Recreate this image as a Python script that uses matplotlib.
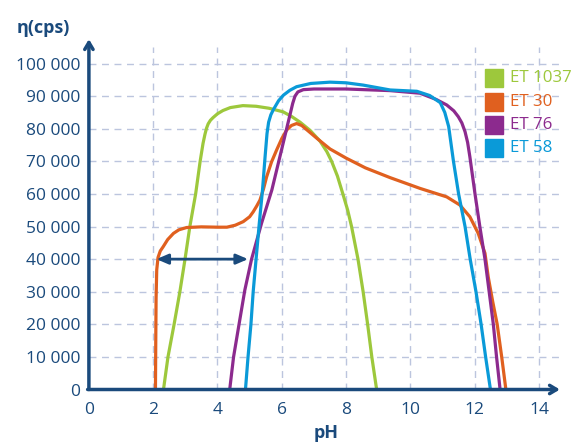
import matplotlib
matplotlib.use('Agg')
import matplotlib.pyplot as plt

# ET 1037
ph_1037 = [2.32, 2.46, 2.65, 2.83, 2.99, 3.14, 3.32, 3.46, 3.55, 3.61, 3.66, 3.71, 3.78, 3.86,
           4.0, 4.17, 4.4, 4.79, 5.2, 5.6, 6.04, 6.3, 6.57, 6.88, 7.19, 7.4, 7.55, 7.73, 7.9,
           8.05, 8.17, 8.37, 8.53, 8.67, 8.8, 8.95]
eta_1037 = [0, 10000, 20000, 30000, 40000, 50000, 60000, 70000, 75500, 78300, 80200, 81500,
            82600, 83400, 84600, 85600, 86500, 87100, 86900, 86300, 85200, 83800, 82000, 79500,
            76200, 73000, 70000, 65500, 60000, 55000, 50000, 40000, 30000, 20000, 10000, 0]

# ET 30
ph_30 = [2.07, 2.08, 2.09, 2.11, 2.15, 2.22, 2.31, 2.45, 2.63, 2.8, 3.04, 3.5, 4.0, 4.29, 4.55,
         4.8, 5.0, 5.11, 5.22, 5.32, 5.43, 5.53, 5.68, 5.84, 6.0, 6.15, 6.3, 6.46, 6.62, 6.8,
         7.1, 7.5, 8.0, 8.6, 9.37, 10.3, 11.13, 11.54, 11.85, 12.11, 12.32, 12.42, 12.56,
         12.7, 12.84, 12.97]
eta_30 = [0, 15000, 28000, 36700, 40500, 42500, 43800, 46000, 47900, 49000, 49700, 49900,
          49800, 49800, 50400, 51500, 53000, 54500, 56300, 58100, 61500, 65300, 69800, 73500,
          77000, 79600, 81000, 81600, 81000, 79500, 77000, 73800, 71000, 68000, 65000, 61700,
          59100, 56600, 53000, 47900, 41800, 34600, 27000, 20000, 10000, 0]

# ET 76
ph_76 = [4.38, 4.5, 4.67, 4.85, 5.06, 5.37, 5.69, 5.94, 6.15, 6.26, 6.34, 6.41, 6.5, 6.67,
         7.0, 8.0, 9.37, 10.3, 10.8, 11.13, 11.35, 11.49, 11.6, 11.7, 11.78, 11.85, 12.01,
         12.16, 12.32, 12.45, 12.58, 12.68, 12.79]
eta_76 = [0, 10000, 20000, 30500, 40000, 51000, 61200, 71400, 80000, 84500, 87800, 90000,
          91300, 92000, 92200, 92200, 91700, 90900, 89000, 87300, 85500, 83700, 81800, 79100,
          75800, 71400, 60000, 50000, 40000, 30000, 20000, 10000, 0]

# ET 58
ph_58 = [4.87, 4.95, 5.04, 5.11, 5.2, 5.3, 5.4, 5.48, 5.54, 5.59, 5.66, 5.74, 5.9, 6.05, 6.25,
         6.46, 6.9, 7.5, 8.0, 8.53, 9.37, 10.2, 10.6, 10.93, 11.07, 11.19, 11.34, 11.5, 11.7,
         11.86, 12.04, 12.2, 12.34, 12.49]
eta_58 = [0, 10000, 20000, 30000, 40000, 51000, 61200, 71400, 78500, 82000, 84300, 85900,
          88600, 90300, 91800, 92900, 93900, 94300, 94100, 93400, 91900, 91500, 90200, 88000,
          85000, 80700, 70000, 60000, 50000, 40000, 30000, 20000, 10000, 0]

names = ['ET 1037', 'ET 30', 'ET 76', 'ET 58']
colors = ['#9dc83c', '#e0601f', '#8c2a8e', '#0a9ad8']
navy = '#1a4a7c'
grid_col = '#bcc5de'

x_ticks = [0, 2, 4, 6, 8, 10, 12, 14]
y_ticks = [0, 10000, 20000, 30000, 40000, 50000, 60000, 70000, 80000, 90000, 100000]
y_labels = ['0', '10 000', '20 000', '30 000', '40 000', '50 000', '60 000',
            '70 000', '80 000', '90 000', '100 000']
arrow_range = [2.1, 4.95]
arrow_level = 40000

plt.rcParams['font.family'] = ['Open Sans', 'DejaVu Sans']

fig = plt.figure(figsize=(5.79, 4.48), dpi=100)
ax = fig.add_axes([88.9 / 579, 58.5 / 448, 474.2 / 579, 352 / 448])
ax.set_xlim(0, 14.75)
ax.set_ylim(0, 108000)

for s in ax.spines.values():
    s.set_visible(False)

# grid
for xv in x_ticks[1:]:
    ax.plot([xv, xv], [0, 105000], color=grid_col, lw=1, ls=(0, (5, 4)), zorder=1)
for yv in y_ticks[1:]:
    ax.plot([0, 14.75], [yv, yv], color=grid_col, lw=1, ls=(0, (5, 4)), zorder=1)

series = [(ph_1037, eta_1037), (ph_30, eta_30), (ph_76, eta_76), (ph_58, eta_58)]
for (xs, ys), c in zip(series, colors):
    ax.plot(xs, ys, color=c, lw=2.3, zorder=3, solid_joinstyle='round')

# double arrow
ax.annotate('', xy=(arrow_range[0], arrow_level), xytext=(arrow_range[1], arrow_level),
            arrowprops=dict(arrowstyle='<|-|>,head_length=0.7,head_width=0.3', color=navy,
                            lw=2, shrinkA=0, shrinkB=0), zorder=5)

# axes arrows
ax.annotate('', xy=(0, 107500), xytext=(0, 0), annotation_clip=False,
            arrowprops=dict(arrowstyle='->,head_length=0.5,head_width=0.3', color=navy,
                            lw=2.5, shrinkA=0, shrinkB=0), zorder=6)
ax.annotate('', xy=(14.65, 0), xytext=(-0.04, 0), annotation_clip=False,
            arrowprops=dict(arrowstyle='->,head_length=0.5,head_width=0.3', color=navy,
                            lw=2.5, shrinkA=0, shrinkB=0), zorder=6)

ax.set_xticks(x_ticks)
ax.set_yticks(y_ticks)
ax.set_yticklabels(y_labels)
ax.tick_params(length=0, colors=navy, labelsize=12.5)
ax.tick_params(axis='x', pad=9)
ax.tick_params(axis='y', pad=6)

ax.set_xlabel('pH', color=navy, fontsize=13, fontweight='bold', labelpad=4)
fig.text(17 / 579, 1 - 28 / 448, 'η(cps)', color=navy, fontsize=13, fontweight='bold',
         va='center', ha='left')

# legend
legend_y = [78, 102, 125, 148]
for name, c, yy in zip(names, colors, legend_y):
    fig.patches.append(plt.Rectangle((485 / 579, 1 - (yy + 9) / 448), 18 / 579, 18 / 448,
                                     transform=fig.transFigure, color=c, figure=fig))
    fig.text(510 / 579, 1 - yy / 448, name, color=c, fontsize=12.2, va='center', ha='left')

fig.savefig('out.png', dpi=100)
